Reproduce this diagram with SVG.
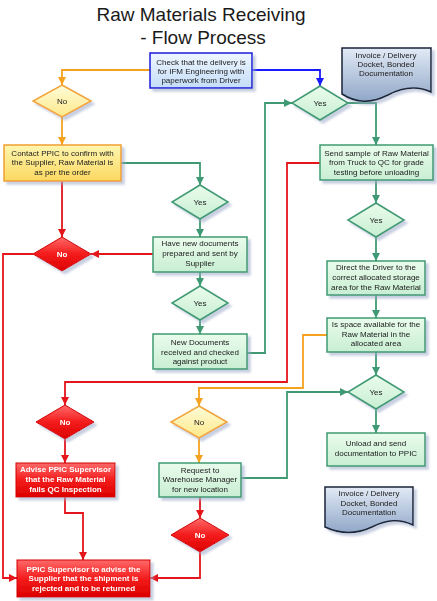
<svg xmlns="http://www.w3.org/2000/svg" width="437" height="601" viewBox="0 0 437 601">
<defs>
<style>
text{font-family:"Liberation Sans",Arial,sans-serif;font-size:8px;fill:#1a1a1a;text-anchor:middle}
.title{font-size:19px;fill:#1a1a1a}
.w{fill:#ffffff;font-weight:bold}
.green{fill:url(#gG);stroke:#3f9a73;stroke-width:1.5}
.red{fill:url(#gR);stroke:#d40000;stroke-width:1}
.yel{fill:url(#gY);stroke:#f0a030;stroke-width:1.5}
.odia{fill:url(#gO);stroke:#f2a33a;stroke-width:1.5}
.blue{fill:url(#gB);stroke:#1a1adc;stroke-width:1.5}
.doc{fill:url(#gD);stroke:#1a2538;stroke-width:1.5}
.node{filter:url(#sh)}
.c{fill:none;stroke-width:1.8}
.cg{stroke:#3f9a73;marker-end:url(#aG)}
.cr{stroke:#e4161c;marker-end:url(#aR)}
.co{stroke:#f5a21e;marker-end:url(#aO)}
.cb{stroke:#1a1aff;marker-end:url(#aB)}
</style>
<linearGradient id="gG" x1="0" y1="0" x2="0" y2="1"><stop offset="0" stop-color="#eafcec"/><stop offset="1" stop-color="#c8eed2"/></linearGradient>
<linearGradient id="gR" x1="0" y1="0" x2="0" y2="1"><stop offset="0" stop-color="#ff6a6a"/><stop offset="0.5" stop-color="#f41c1c"/><stop offset="1" stop-color="#dc0000"/></linearGradient>
<linearGradient id="gY" x1="0" y1="0" x2="0" y2="1"><stop offset="0" stop-color="#fff6b0"/><stop offset="1" stop-color="#fbd860"/></linearGradient>
<linearGradient id="gO" x1="0" y1="0" x2="0" y2="1"><stop offset="0" stop-color="#fffcd8"/><stop offset="1" stop-color="#fce88a"/></linearGradient>
<linearGradient id="gB" x1="0" y1="0" x2="0" y2="1"><stop offset="0" stop-color="#eef6ff"/><stop offset="1" stop-color="#c4ddf8"/></linearGradient>
<linearGradient id="gD" x1="0" y1="0" x2="0" y2="1"><stop offset="0" stop-color="#e2eaf5"/><stop offset="1" stop-color="#90a7c8"/></linearGradient>
<filter id="sh" x="-20%" y="-20%" width="150%" height="150%"><feDropShadow dx="3" dy="3" stdDeviation="1" flood-color="#9aa8c8" flood-opacity="0.55"/></filter>
<marker id="aG" markerUnits="userSpaceOnUse" markerWidth="9" markerHeight="9" refX="8" refY="4" orient="auto"><path d="M0,0 L8,4 L0,8 z" fill="#3f9a73"/></marker>
<marker id="aR" markerUnits="userSpaceOnUse" markerWidth="9" markerHeight="9" refX="8" refY="4" orient="auto"><path d="M0,0 L8,4 L0,8 z" fill="#e4161c"/></marker>
<marker id="aO" markerUnits="userSpaceOnUse" markerWidth="9" markerHeight="9" refX="8" refY="4" orient="auto"><path d="M0,0 L8,4 L0,8 z" fill="#f5a21e"/></marker>
<marker id="aB" markerUnits="userSpaceOnUse" markerWidth="9" markerHeight="9" refX="8" refY="4" orient="auto"><path d="M0,0 L8,4 L0,8 z" fill="#1a1aff"/></marker>
</defs>
<rect width="437" height="601" fill="#ffffff"/>
<g id="title">
<text class="title" x="201" y="21">Raw Materials Receiving</text>
<text class="title" x="203" y="44">- Flow Process</text>
</g>
<g id="connectors">
<polyline class="c cb" points="252,70 320,70 320,86"/>
<polyline class="c co" points="150,70 62,70 62,85"/>
<polyline class="c co" points="62,117 62,145"/>
<polyline class="c cr" points="62,181 62,237"/>
<polyline class="c cg" points="121,163 200,163 200,185"/>
<polyline class="c cr" points="153,254 91,254"/>
<polyline class="c cr" points="33,254 3,254 3,578 17,578"/>
<polyline class="c cg" points="200,219 200,237"/>
<polyline class="c cg" points="200,272 200,286"/>
<polyline class="c cg" points="200,320 200,334"/>
<polyline class="c cg" points="247,353 265,353 265,103 292,103"/>
<polyline class="c cg" points="348,103 376,103 376,145"/>
<polyline class="c cg" points="376,180 376,203"/>
<polyline class="c cg" points="376,237 376,261"/>
<polyline class="c cg" points="376,295 376,318"/>
<polyline class="c cg" points="376,352 376,375"/>
<polyline class="c cg" points="376,409 376,433"/>
<polyline class="c cr" points="320,163 287,163 287,382 65,382 65,405"/>
<polyline class="c co" points="327,335 303,335 303,388 199,388 199,406"/>
<polyline class="c cr" points="65,439 65,463"/>
<polyline class="c co" points="199,438 199,463"/>
<polyline class="c cg" points="241,478 287,478 287,392 348,392"/>
<polyline class="c cr" points="200,497 200,518"/>
<polyline class="c cr" points="65,497 65,513 83,513 83,560"/>
<polyline class="c cr" points="200,552 200,578 150,578"/>
</g>
<g id="check" class="node">
<rect class="blue" x="150" y="53" width="102" height="35"/>
<text x="201" y="65">Check that the delivery is</text>
<text x="201" y="74">for IFM Engineering with</text>
<text x="201" y="83">paperwork from Driver</text>
</g>
<g id="doc1" class="node">
<path class="doc" d="M342,48 H431 V92 C418,86 405,86 388,95 C370,104 356,103 342,94 Z"/>
<text x="386" y="58">Invoice / Delivery</text>
<text x="386" y="67">Docket, Bonded</text>
<text x="386" y="76">Documentation</text>
</g>
<g id="no1" class="node">
<polygon class="odia" points="62,85 91,101 62,117 33,101"/>
<text x="62" y="104">No</text>
</g>
<g id="yes1" class="node">
<polygon class="green" points="320,86 348,103 320,120 292,103"/>
<text x="320" y="106">Yes</text>
</g>
<g id="contact" class="node">
<rect class="yel" x="4" y="145" width="117" height="36"/>
<text x="62.5" y="156">Contact PPIC to confirm with</text>
<text x="62.5" y="165">the Supplier, Raw Material is</text>
<text x="62.5" y="175">as per the order</text>
</g>
<g id="send" class="node">
<rect class="green" x="320" y="145" width="113" height="35"/>
<text x="376.5" y="156">Send sample of Raw Material</text>
<text x="376.5" y="165">from Truck to QC for grade</text>
<text x="376.5" y="175">testing before unloading</text>
</g>
<g id="yes2" class="node">
<polygon class="green" points="200,185 228,202 200,219 172,202"/>
<text x="200" y="205">Yes</text>
</g>
<g id="yes3" class="node">
<polygon class="green" points="376,203 404,220 376,237 348,220"/>
<text x="376" y="223">Yes</text>
</g>
<g id="no2" class="node">
<polygon class="red" points="62,237 91,254 62,271 33,254"/>
<text class="w" x="62" y="257">No</text>
</g>
<g id="havenew" class="node">
<rect class="green" x="153" y="237" width="94" height="35"/>
<text x="200" y="246">Have new documents</text>
<text x="200" y="256">prepared and sent by</text>
<text x="200" y="266">Supplier</text>
</g>
<g id="direct" class="node">
<rect class="green" x="327" y="261" width="98" height="34"/>
<text x="376" y="270">Direct the Driver to the</text>
<text x="376" y="280">correct allocated storage</text>
<text x="376" y="290">area for the Raw Material</text>
</g>
<g id="yes4" class="node">
<polygon class="green" points="200,286 228,303 200,320 172,303"/>
<text x="200" y="306">Yes</text>
</g>
<g id="isspace" class="node">
<rect class="green" x="327" y="318" width="98" height="34"/>
<text x="376" y="327">Is space available for the</text>
<text x="376" y="337">Raw Material in the</text>
<text x="376" y="346">allocated area</text>
</g>
<g id="newdocs" class="node">
<rect class="green" x="153" y="334" width="94" height="35"/>
<text x="200" y="345">New Documents</text>
<text x="200" y="355">received and checked</text>
<text x="200" y="364">against product</text>
</g>
<g id="yes5" class="node">
<polygon class="green" points="376,375 404,392 376,409 348,392"/>
<text x="376" y="395">Yes</text>
</g>
<g id="no3" class="node">
<polygon class="red" points="65,405 94,422 65,439 36,422"/>
<text class="w" x="65" y="425">No</text>
</g>
<g id="no4" class="node">
<polygon class="odia" points="199,406 227,422 199,438 171,422"/>
<text x="199" y="425">No</text>
</g>
<g id="unload" class="node">
<rect class="green" x="327" y="433" width="98" height="33"/>
<text x="376" y="446">Unload and send</text>
<text x="376" y="456">documentation to PPIC</text>
</g>
<g id="advise" class="node">
<rect class="red" x="16" y="463" width="99" height="34"/>
<text class="w" x="65.5" y="472">Advise PPIC Supervisor</text>
<text class="w" x="65.5" y="482">that the Raw Material</text>
<text class="w" x="65.5" y="492">fails QC Inspection</text>
</g>
<g id="request" class="node">
<rect class="green" x="159" y="463" width="82" height="34"/>
<text x="200" y="473">Request to</text>
<text x="200" y="482">Warehouse Manager</text>
<text x="200" y="492">for new location</text>
</g>
<g id="doc2" class="node">
<path class="doc" d="M325,487 H413 V525 C400,519 388,519 372,527 C355,535 340,534 325,527 Z"/>
<text x="369" y="496">Invoice / Delivery</text>
<text x="369" y="506">Docket, Bonded</text>
<text x="369" y="515">Documentation</text>
</g>
<g id="no5" class="node">
<polygon class="red" points="200,518 229,535 200,552 171,535"/>
<text class="w" x="200" y="538">No</text>
</g>
<g id="final" class="node">
<rect class="red" x="17" y="560" width="133" height="37"/>
<text class="w" x="83.5" y="572">PPIC Supervisor to advise the</text>
<text class="w" x="83.5" y="581">Supplier that the shipment is</text>
<text class="w" x="83.5" y="591">rejected and to be returned</text>
</g>
</svg>
